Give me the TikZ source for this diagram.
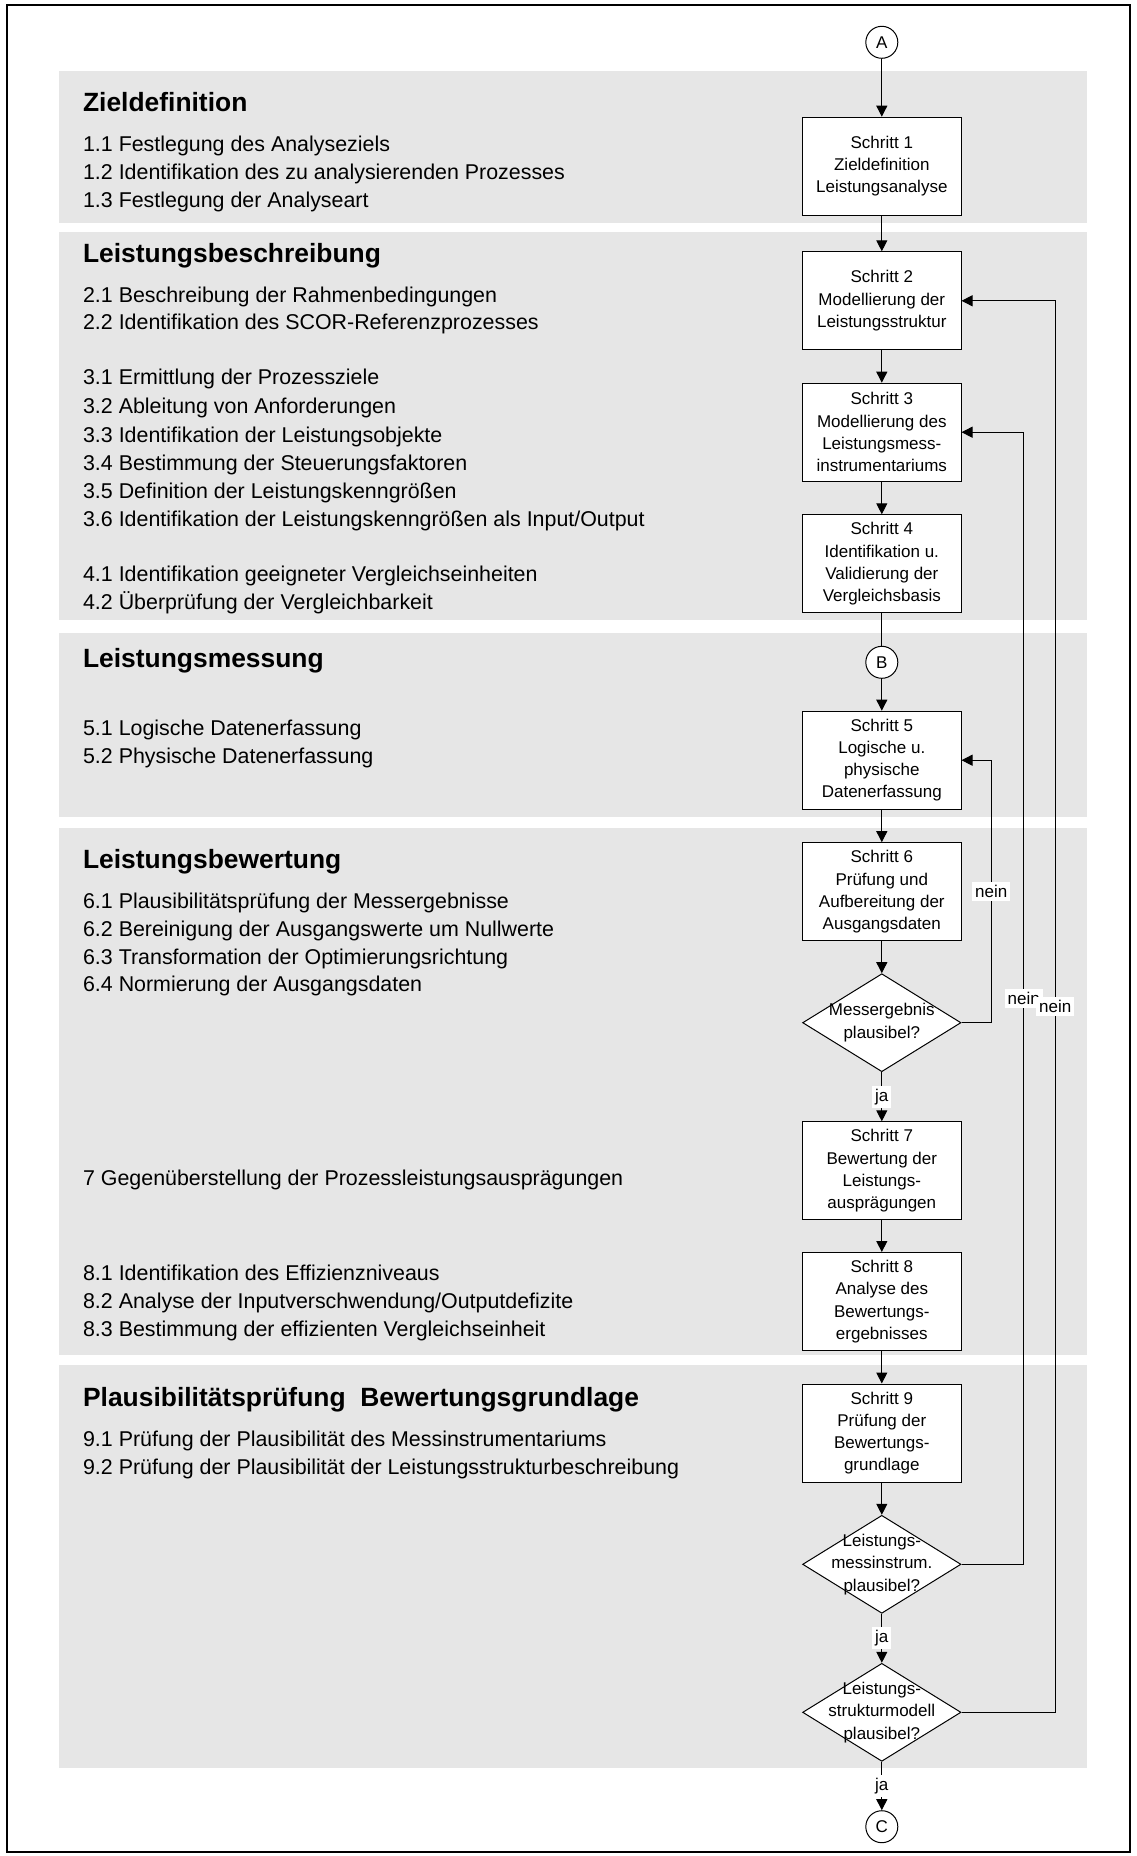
\documentclass[tikz,border=0pt]{standalone}
\usepackage{fontspec}
\setmainfont{Liberation Sans}
\usetikzlibrary{arrows.meta, shapes.geometric}
\definecolor{bandgray}{RGB}{230,230,230}
\tikzset{
  stepbox/.style={draw, line width=0.5pt, fill=white, minimum width=79.2pt, minimum height=49pt,
    inner sep=0pt, align=center, font=\fontsize{8.5}{11.1}\selectfont},
  decision/.style={draw, diamond, line width=0.5pt, fill=white, minimum width=79.2pt,
    minimum height=49pt, inner sep=0pt},
  dectext/.style={align=center, inner sep=0pt, font=\fontsize{8.5}{11.2}\selectfont},
  connector/.style={draw, circle, line width=0.5pt, fill=white, minimum size=16pt, inner sep=0pt,
    font=\fontsize{8.5}{10}\selectfont},
  flow/.style={line width=0.5pt, -{Triangle[length=5.5pt,width=5.5pt]}},
  lbl/.style={fill=white, inner sep=1.5pt, font=\fontsize{8.5}{10}\selectfont},
  band/.style={fill=bandgray, draw=none},
  head/.style={anchor=base west, inner sep=0pt, font=\fontsize{13.2}{15}\selectfont\bfseries},
  item/.style={anchor=base west, inner sep=0pt, font=\fontsize{10.7}{13}\selectfont}
}
\begin{document}
\begin{tikzpicture}[x=0.5pt, y=-0.5pt]
\useasboundingbox (0,0) rectangle (1136,1856);
\draw[line width=1pt] (7,5) rectangle (1130,1852);
\fill[band] (59,71) rectangle (1086.7,222.7);
\fill[band] (59,232.3) rectangle (1086.7,620);
\fill[band] (59,633.3) rectangle (1086.7,816.7);
\fill[band] (59,827.7) rectangle (1086.7,1354.7);
\fill[band] (59,1365) rectangle (1086.7,1767.7);

\node[head] (h1) at (82.7,111.7) {Zieldefinition};
\node[item] (t11) at (82.7,151.7) {1.1 Festlegung des Analyseziels};
\node[item] (t12) at (82.7,180) {1.2 Identifikation des zu analysierenden Prozesses};
\node[item] (t13) at (82.7,207.3) {1.3 Festlegung der Analyseart};
\node[head] (h2) at (82.7,262.7) {Leistungsbeschreibung};
\node[item] (t21) at (82.7,302.7) {2.1 Beschreibung der Rahmenbedingungen};
\node[item] (t22) at (82.7,329.3) {2.2 Identifikation des SCOR-Referenzprozesses};
\node[item] (t31) at (82.7,385) {3.1 Ermittlung der Prozessziele};
\node[item] (t32) at (82.7,413.3) {3.2 Ableitung von Anforderungen};
\node[item] (t33) at (82.7,442.7) {3.3 Identifikation der Leistungsobjekte};
\node[item] (t34) at (82.7,470.7) {3.4 Bestimmung der Steuerungsfaktoren};
\node[item] (t35) at (82.7,498.3) {3.5 Definition der Leistungskenngrößen};
\node[item] (t36) at (82.7,526) {3.6 Identifikation der Leistungskenngrößen als Input/Output};
\node[item] (t41) at (82.7,581.7) {4.1 Identifikation geeigneter Vergleichseinheiten};
\node[item] (t42) at (82.7,609) {4.2 Überprüfung der Vergleichbarkeit};
\node[head] (h3) at (82.7,667.3) {Leistungsmessung};
\node[item] (t51) at (82.7,735) {5.1 Logische Datenerfassung};
\node[item] (t52) at (82.7,763.3) {5.2 Physische Datenerfassung};
\node[head] (h4) at (82.7,868.3) {Leistungsbewertung};
\node[item] (t61) at (82.7,908.3) {6.1 Plausibilitätsprüfung der Messergebnisse};
\node[item] (t62) at (82.7,936.7) {6.2 Bereinigung der Ausgangswerte um Nullwerte};
\node[item] (t63) at (82.7,964) {6.3 Transformation der Optimierungsrichtung};
\node[item] (t64) at (82.7,991.7) {6.4 Normierung der Ausgangsdaten};
\node[item] (t7) at (82.7,1185) {7 Gegenüberstellung der Prozessleistungsausprägungen};
\node[item] (t81) at (82.7,1280) {8.1 Identifikation des Effizienzniveaus};
\node[item] (t82) at (82.7,1308.3) {8.2 Analyse der Inputverschwendung/Outputdefizite};
\node[item] (t83) at (82.7,1336) {8.3 Bestimmung der effizienten Vergleichseinheit};
\node[head] (h5) at (82.7,1406.7) {Plausibilitätsprüfung\ \ Bewertungsgrundlage};
\node[item] (t91) at (82.7,1446) {9.1 Prüfung der Plausibilität des Messinstrumentariums};
\node[item] (t92) at (82.7,1474) {9.2 Prüfung der Plausibilität der Leistungsstrukturbeschreibung};

\node[connector] (cA) at (881.8,42.3) {A};
\node[stepbox] (s1) at (881.8,166.2) {Schritt 1\\Zieldefinition\\Leistungsanalyse};
\node[stepbox] (s2) at (881.8,300.8) {Schritt 2\\Modellierung der\\Leistungsstruktur};
\node[stepbox] (s3) at (881.8,432.2) {Schritt 3\\Modellierung des\\Leistungsmess-\\instrumentariums};
\node[stepbox] (s4) at (881.8,563.8) {Schritt 4\\Identifikation u.\\Validierung der\\Vergleichsbasis};
\node[connector] (cB) at (881.8,662.3) {B};
\node[stepbox] (s5) at (881.8,760.2) {Schritt 5\\Logische u.\\physische\\Datenerfassung};
\node[stepbox] (s6) at (881.8,891.7) {Schritt 6\\Prüfung und\\Aufbereitung der\\Ausgangsdaten};
\node[decision] (d1) at (881.8,1022.7) {};
\node[dectext] (d1t) at (d1.center) {Messergebnis\\plausibel?};
\node[stepbox] (s7) at (881.8,1170.8) {Schritt 7\\Bewertung der\\Leistungs-\\ausprägungen};
\node[stepbox] (s8) at (881.8,1301.5) {Schritt 8\\Analyse des\\Bewertungs-\\ergebnisses};
\node[stepbox] (s9) at (881.8,1433) {Schritt 9\\Prüfung der\\Bewertungs-\\grundlage};
\node[decision] (d2) at (881.8,1564.3) {};
\node[dectext] (d2t) at (d2.center) {Leistungs-\\messinstrum.\\plausibel?};
\node[decision] (d3) at (881.8,1712.3) {};
\node[dectext] (d3t) at (d3.center) {Leistungs-\\strukturmodell\\plausibel?};
\node[connector] (cC) at (881.8,1826.7) {C};

\coordinate (r1) at (991.3,0);
\coordinate (r2) at (1023.7,0);
\coordinate (r3) at (1055.3,0);

\draw[flow] (cA) -- (s1);
\draw[flow] (s1) -- (s2);
\draw[flow] (s2) -- (s3);
\draw[flow] (s3) -- (s4);
\draw[line width=0.5pt] (s4) -- (cB);
\draw[flow] (cB) -- (s5);
\draw[flow] (s5) -- (s6);
\draw[flow] (s6) -- (d1);
\draw[flow] (d1) -- node[lbl] {ja} (s7);
\draw[flow] (s7) -- (s8);
\draw[flow] (s8) -- (s9);
\draw[flow] (s9) -- (d2);
\draw[flow] (d2) -- node[lbl] {ja} (d3);
\draw[flow] (d3) -- node[lbl] {ja} (cC);

\draw[flow] (d1.east) -- (d1.east -| r1) |- node[lbl, pos=0.25] {nein} (s5.east);
\draw[flow] (d2.east) -- (d2.east -| r2) |- node[lbl, pos=0.25] {nein} (s3.east);
\draw[flow] (d3.east) -- (d3.east -| r3) |- node[lbl, pos=0.25] {nein} (s2.east);
\end{tikzpicture}
\end{document}
